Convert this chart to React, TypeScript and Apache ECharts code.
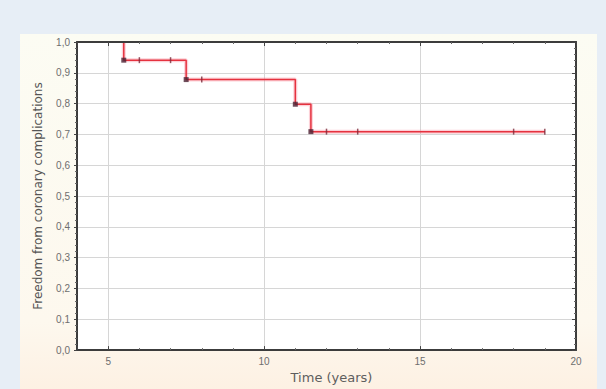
import React, { useEffect, useRef } from "react";
import * as echarts from "echarts";

// Kaplan–Meier: event times and survival right after each event
const eventTimes = [5.5, 7.5, 11.0, 11.5];
const survivalAfter = [0.941, 0.878, 0.798, 0.709];
// censored observations
const censorTimes = [6.0, 7.0, 8.0, 12.0, 13.0, 18.0, 19.0];
const startSurvival = 1.0;
const yTicks = [0, 0.1, 0.2, 0.3, 0.4, 0.5, 0.6, 0.7, 0.8, 0.9, 1.0];

function survivalAt(t: number): number {
  let s = startSurvival;
  for (let i = 0; i < eventTimes.length; i++) {
    if (eventTimes[i] <= t) s = survivalAfter[i];
  }
  return s;
}

export default function App() {
  const ref = useRef<HTMLDivElement>(null);
  useEffect(() => {
    if (!ref.current) return;
    const chart = echarts.init(ref.current, null, { renderer: "svg" });
    const lastTime = censorTimes[censorTimes.length - 1];
    // the segment at 1.0 before the first event lies on the frame; start at the first drop
    const lineData: number[][] = [[eventTimes[0], startSurvival]];
    eventTimes.forEach((t, i) => lineData.push([t, survivalAfter[i]]));
    lineData.push([lastTime, survivalAt(lastTime)]);
    const eventData = eventTimes.map((t, i) => [t, survivalAfter[i]]);
    const censorData = censorTimes.map((t) => [t, survivalAt(t)]);

    const labelFont = {
      fontFamily: "Liberation Sans, Arial, sans-serif",
      fontSize: 10,
      color: "#6e6e6e",
    };
    const frameLine = { show: true, onZero: false, lineStyle: { color: "#3c3c3c", width: 2 } };
    const tick = { show: true, inside: true, length: 4, lineStyle: { color: "#444" } };
    const minor = { show: true, splitNumber: 5, length: 2, lineStyle: { color: "#666" } };
    const baseX = {
      type: "value" as const,
      min: 4,
      max: 20,
      minInterval: 5,
      maxInterval: 5,
    };
    const baseY = {
      type: "value" as const,
      min: 0,
      max: 1,
      interval: 0.1,
    };
    const gridLineOnly = {
      axisLine: { show: false, onZero: false },
      axisTick: { show: false },
      axisLabel: { show: false },
      splitLine: { show: true, lineStyle: { color: "#d6d6d6", width: 1 } },
      z: 1,
    };

    chart.setOption({
      animation: false,
      backgroundColor: "#e7eef6",
      graphic: [
        {
          type: "rect",
          shape: { x: 20, y: 34, width: 577, height: 360 },
          style: {
            fill: new echarts.graphic.LinearGradient(0, 0, 0, 1, [
              { offset: 0, color: "#fcfcf3" },
              { offset: 0.8, color: "#fdf8ee" },
              { offset: 1, color: "#fdf0e2" },
            ]),
          },
          z: -10,
        },
      ],
      grid: {
        left: 77,
        top: 42,
        right: 30,
        bottom: 32,
        show: true,
        backgroundColor: "#ffffff",
        borderWidth: 0,
      },
      xAxis: [
        {
          ...baseX,
          position: "bottom",
          z: 10,
          name: "Time (years)",
          nameLocation: "middle",
          nameGap: 19,
          nameTextStyle: {
            fontFamily: "DejaVu Sans, sans-serif",
            fontSize: 13,
            color: "#5e5e5e",
            padding: [0, 0, 0, 10],
          },
          axisLine: frameLine,
          axisTick: tick,
          minorTick: minor,
          axisLabel: { ...labelFont, margin: 6, showMinLabel: false },
          splitLine: { show: false },
        },
        {
          ...baseX,
          position: "top",
          z: 10,
          axisLine: frameLine,
          axisTick: tick,
          minorTick: minor,
          axisLabel: { show: false },
          splitLine: { show: false },
        },
        { ...baseX, position: "bottom", ...gridLineOnly },
      ],
      yAxis: [
        {
          ...baseY,
          position: "left",
          z: 10,
          name: "Freedom from coronary complications",
          nameLocation: "middle",
          nameGap: 33,
          nameTextStyle: {
            fontFamily: "DejaVu Sans, sans-serif",
            fontSize: 12,
            color: "#555555",
          },
          axisLine: frameLine,
          axisTick: { show: true, inside: false, length: 3, lineStyle: { color: "#444" } },
          minorTick: minor,
          axisLabel: {
            ...labelFont,
            margin: 7,
            formatter: (v: number) =>
              yTicks.some((t) => Math.abs(t - v) < 1e-6) ? v.toFixed(1).replace(".", ",") : "",
          },
          splitLine: { show: false },
        },
        {
          ...baseY,
          position: "right",
          z: 10,
          axisLine: frameLine,
          axisTick: tick,
          minorTick: minor,
          axisLabel: { show: false },
          splitLine: { show: false },
        },
        { ...baseY, position: "left", ...gridLineOnly },
      ],
      series: [
        {
          type: "line",
          step: "end",
          data: lineData,
          showSymbol: false,
          clip: true,
          silent: true,
          lineStyle: { color: "rgba(245,120,140,0.35)", width: 4 },
          z: 2,
        },
        {
          type: "line",
          step: "end",
          data: lineData,
          showSymbol: false,
          clip: true,
          lineStyle: { color: "#e5323f", width: 1.5 },
          z: 3,
        },
        {
          type: "scatter",
          data: eventData,
          symbol: "rect",
          symbolSize: 5,
          itemStyle: { color: "#4a2233" },
          z: 5,
        },
        {
          type: "scatter",
          data: censorData,
          symbol: "rect",
          symbolSize: [1.5, 6],
          itemStyle: { color: "#7a2a3a" },
          z: 5,
        },
      ],
    });
    return () => chart.dispose();
  }, []);
  return (
    <div
      ref={ref}
      style={{ position: "fixed", left: 0, top: 0, width: 606, height: 389 }}
    />
  );
}
